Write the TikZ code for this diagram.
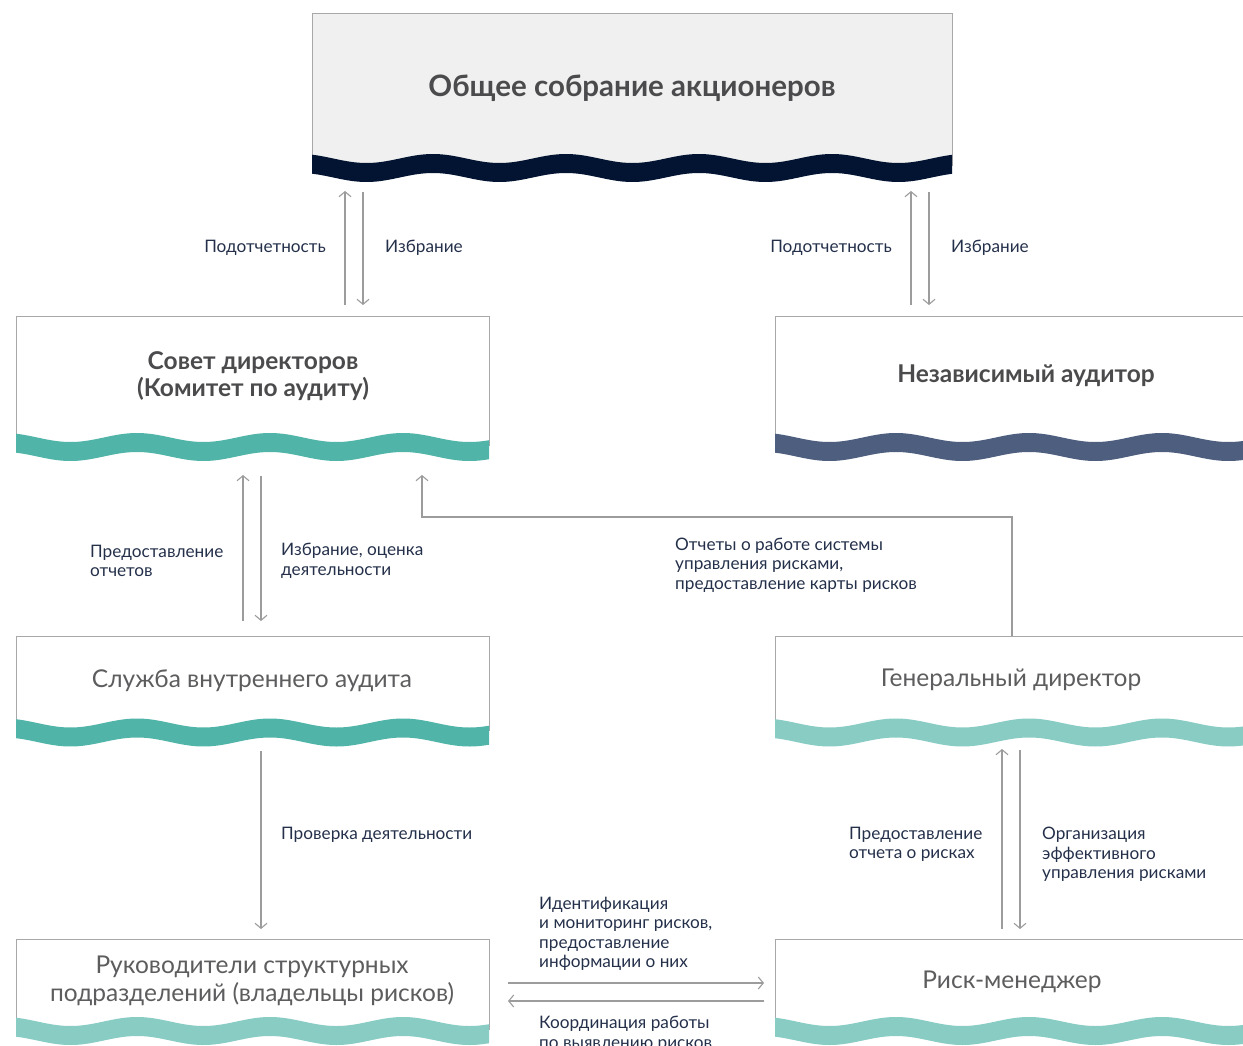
\documentclass[tikz,border=0pt]{standalone}
\usepackage{fontspec}
\setmainfont{Lato}
\usetikzlibrary{arrows.meta}

\definecolor{navyband}{HTML}{031432}
\definecolor{tealband}{HTML}{50B4A8}
\definecolor{paleband}{HTML}{88CCC4}
\definecolor{slateband}{HTML}{4D5E7E}
\definecolor{topfill}{HTML}{F0F0F0}
\definecolor{framegray}{HTML}{A8A8A8}
\definecolor{arrgray}{HTML}{9C9C9C}
\definecolor{titlegray}{HTML}{4B4B4D}
\definecolor{lblnavy}{HTML}{24304A}

\tikzset{
  area/.style={anchor=north west, inner sep=0pt, outer sep=0pt},
  frame/.style={draw=framegray, line width=1pt},
  arr/.style={draw=arrgray, line width=1.1pt, -{Straight Barb[length=5pt,width=12pt]}},
  boldtitle/.style={font=\bfseries\fontsize{24.5}{27.5}\selectfont, text=titlegray, align=center},
  lighttitle/.style={font=\fontsize{24.5}{27.5}\selectfont, text=titlegray!90, align=center},
  lbl/.style={font=\fontsize{17.2}{19.5}\selectfont, text=lblnavy, align=left, anchor=west, inner sep=0pt},
}

% box with grey frame and a wavy band at its foot
\newcommand{\wavebox}[7]{% name, left x, top y, width, band y, fill, band colour
  \node[area, fill=#6, minimum width=#4pt, minimum height={#5pt-#3pt+8pt}] (#1) at (#2,#3) {};
  \draw[frame] (#1.south west) -- (#1.north west) -- (#1.north east) -- (#1.south east);
  \fill[#7] plot[domain=#2:#2+#4, samples=100, smooth] (\x,{#5-4.5*cos(2.7068*(\x-#2+12))})
    -- plot[domain=#2+#4:#2, samples=100, smooth] (\x,{#5+19-4.5*cos(2.7068*(\x-#2+12))}) -- cycle;
}

\begin{document}
\begin{tikzpicture}[x=1pt,y=-1pt]
  \useasboundingbox (0,0) rectangle (1243,1046);

  \wavebox{obshee}{312}{14}{640}{158.5}{topfill}{navyband}
  \wavebox{sovet}{16}{316}{473}{437.5}{white}{tealband}
  \wavebox{auditor}{775}{316}{470}{437.5}{white}{slateband}
  \wavebox{sluzhba}{16}{636}{473}{723}{white}{tealband}
  \wavebox{gendir}{775}{636}{470}{723}{white}{paleband}
  \wavebox{rukovod}{16}{939}{473}{1021.5}{white}{paleband}
  \wavebox{riskman}{775}{939}{470}{1021.5}{white}{paleband}

  \node[boldtitle, font=\bfseries\fontsize{29.5}{33}\selectfont] (obshee-t) at (632,88) {Общее собрание акционеров};
  \node[boldtitle] (sovet-t) at (253,376) {Совет директоров\\(Комитет по аудиту)};
  \node[boldtitle] (auditor-t) at (1026,376) {Независимый аудитор};
  \node[lighttitle] (sluzhba-t) at (252,681) {Служба внутреннего аудита};
  \node[lighttitle] (gendir-t) at (1011,680) {Генеральный директор};
  \node[lighttitle] (rukovod-t) at (252,981) {Руководители структурных\\подразделений (владельцы рисков)};
  \node[lighttitle] (riskman-t) at (1012,982) {Риск-менеджер};

  % shareholders <-> board / auditor
  \draw[arr, shorten <=11pt, shorten >=24.5pt] (sovet.north -| 345,0) -- (obshee.south -| 345,0);
  \draw[arr, shorten <=25.5pt, shorten >=11pt] (obshee.south -| 363,0) -- (sovet.north -| 363,0);
  \draw[arr, shorten <=11pt, shorten >=24.5pt] (auditor.north -| 911,0) -- (obshee.south -| 911,0);
  \draw[arr, shorten <=25.5pt, shorten >=11pt] (obshee.south -| 929,0) -- (auditor.north -| 929,0);
  \node[lbl, anchor=east] (podA) at (326,247.5) {Подотчетность};
  \node[lbl] (izbA) at (385,247.5) {Избрание};
  \node[lbl, anchor=east] (podB) at (892,247.5) {Подотчетность};
  \node[lbl] (izbB) at (951,247.5) {Избрание};

  % board <-> internal audit
  \draw[arr, shorten <=15pt, shorten >=29.5pt] (sluzhba.north -| 243,0) -- (sovet.south -| 243,0);
  \draw[arr, shorten <=30.5pt, shorten >=15pt] (sovet.south -| 261,0) -- (sluzhba.north -| 261,0);
  \node[lbl] (predotch) at (90,561) {Предоставление\\отчетов};
  \node[lbl] (izbocen) at (281,561) {Избрание, оценка\\деятельности};

  % CEO -> board
  \coordinate (bend) at (422,517);
  \draw[arr, shorten >=29.5pt] (gendir.north -| 1012,0) |- (bend) -- (sovet.south -| bend);
  \node[lbl] (otchety) at (675,565) {Отчеты о работе системы\\управления рисками,\\предоставление карты рисков};

  % internal audit -> heads of units
  \draw[arr, shorten <=20pt, shorten >=10pt] (sluzhba.south -| 261,0) -- (rukovod.north -| 261,0);
  \node[lbl] (proverka) at (281,834.5) {Проверка деятельности};

  % CEO <-> risk manager
  \draw[arr, shorten <=10pt, shorten >=18pt] (riskman.north -| 1002,0) -- (gendir.south -| 1002,0);
  \draw[arr, shorten <=19pt, shorten >=10pt] (gendir.south -| 1020,0) -- (riskman.north -| 1020,0);
  \node[lbl] (predrisk) at (849,844.5) {Предоставление\\отчета о рисках};
  \node[lbl] (organiz) at (1042,854.5) {Организация\\эффективного\\управления рисками};

  % heads of units <-> risk manager
  \draw[arr, shorten <=19pt, shorten >=11pt] (rukovod.east |- 0,983) -- (riskman.west |- 0,983);
  \draw[arr, shorten <=11pt, shorten >=19pt] (riskman.west |- 0,1001) -- (rukovod.east |- 0,1001);
  \node[lbl] (ident) at (539,934) {Идентификация\\и мониторинг рисков,\\предоставление\\информации о них};
  \node[lbl] (koord) at (539,1034) {Координация работы\\по выявлению рисков};
\end{tikzpicture}
\end{document}
